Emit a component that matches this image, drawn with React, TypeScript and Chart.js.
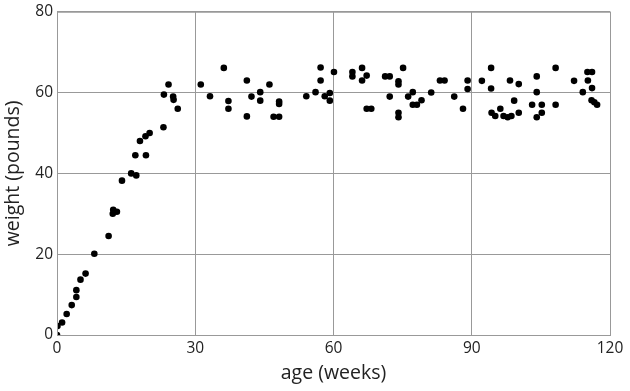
import React, { useEffect, useRef } from "react";
import { Chart, registerables } from "chart.js";

Chart.register(...registerables);

const ages: number[] = [
  0, 0.1, 1.1, 2.1, 3.2, 4.2, 4.2, 5.1, 6.2, 8.1, 11.2, 12.1, 12.2, 13,
  14.1, 16.1, 17.2, 17, 19.3, 18, 19.2, 20.1, 23.1, 23.2, 24.2, 25.2, 25.3, 26.2,
  31.2, 33.2, 36.2, 37.2, 37.2, 41.2, 41.2, 42.2, 44.1, 44.1, 46.1, 47, 48.2, 48.2, 48.2,
  54.1, 56.1, 57.2, 57.2, 58.1, 59.2, 59.2, 60.1,
  64.1, 64.1, 66.2, 67.2, 66.2, 67.2, 68.2, 71.2, 72.2, 72.2, 74.1, 74.1, 75.1, 74.1, 74.1,
  76.2, 77.2, 77.2, 78.1, 79.1, 81.2, 83.1, 84.1, 86.2, 88.1, 89.1, 89.1,
  92.2, 94.2, 94.2, 94.3, 95.1, 96.2, 96.9, 97.8, 98.6, 98.3, 99.2, 100.2, 100.2,
  103.1, 104.1, 104.1, 105.2, 105.2, 104.1, 108.2, 108.2,
  112.2, 114.1, 115.1, 116.1, 115.2, 116.1, 116, 116.6, 117.2,
];
const weights: number[] = [
  0, 2.2, 3.1, 5.2, 7.4, 9.4, 11.1, 13.7, 15.2, 20.1, 24.5, 30, 31, 30.5,
  38.2, 40, 39.5, 44.5, 44.5, 48, 49.2, 50, 51.4, 59.5, 62, 59, 58.2, 56,
  62, 59.1, 66.1, 57.9, 56, 63, 54.1, 59, 60.1, 58, 62, 54, 54, 57.8, 57.2,
  59.1, 60.1, 66.2, 63, 59.1, 59.9, 58, 65.1,
  65.1, 64, 66.1, 64.2, 63, 56, 56, 64, 64, 59, 62.8, 62, 66.1, 55, 53.9,
  59, 60.1, 57, 57, 58.1, 60, 63, 63, 59, 56, 63, 60.9,
  62.9, 66.1, 61, 55, 54.2, 56, 54.2, 53.9, 54.2, 63, 58, 62.1, 55,
  57, 64, 60.1, 57, 55, 53.9, 66.1, 57,
  62.9, 60.1, 65.1, 65.1, 63, 61.1, 58.1, 57.6, 57,
];

const xTicks: number[] = [0, 30, 60, 90, 120];
const yTicks: number[] = [0, 20, 40, 60, 80];

export default function App() {
  const ref = useRef<HTMLCanvasElement>(null);
  useEffect(() => {
    document.body.style.margin = "0";
    const font = "'Open Sans', sans-serif";
    const chart = new Chart(ref.current!, {
      type: "scatter",
      data: {
        datasets: [
          {
            data: ages.map((a, i) => ({ x: a, y: weights[i] })),
            backgroundColor: "#000",
            borderWidth: 0,
            pointRadius: 3.3,
          },
        ],
      },
      options: {
        animation: false,
        responsive: false,
        layout: { padding: { top: 10, right: 20, left: 0, bottom: 0 } },
        plugins: { legend: { display: false }, tooltip: { enabled: false } },
        scales: {
          x: {
            type: "linear",
            min: 0,
            max: 120,
            afterBuildTicks: (s: any) => {
              s.ticks = xTicks.map((v) => ({ value: v }));
            },
            afterFit: (s: any) => {
              s.height = 56;
            },
            grid: { color: "#999", drawTicks: false },
            border: { color: "#999" },
            ticks: { color: "#222", font: { family: font, size: 15.5, lineHeight: 1 }, padding: 6 },
            title: {
              display: true,
              text: "age (weeks)",
              color: "#222",
              font: { family: font, size: 19.5 },
              padding: { top: 0, bottom: 6 },
            },
          },
          y: {
            type: "linear",
            min: 0,
            max: 80,
            afterBuildTicks: (s: any) => {
              s.ticks = yTicks.map((v) => ({ value: v }));
            },
            afterFit: (s: any) => {
              s.width = 57;
            },
            grid: { color: "#999", drawTicks: false },
            border: { color: "#999" },
            ticks: { color: "#222", font: { family: font, size: 15.5, lineHeight: 1 }, padding: 4 },
            title: {
              display: true,
              text: "weight (pounds)",
              color: "#222",
              font: { family: font, size: 19.5 },
              padding: { top: 2, bottom: 0 },
            },
          },
        },
      },
      plugins: [
        {
          id: "frame",
          afterDraw: (c: any) => {
            const { ctx, chartArea } = c;
            ctx.save();
            ctx.strokeStyle = "#999";
            ctx.lineWidth = 1;
            ctx.strokeRect(chartArea.left + 0.5, chartArea.top + 0.5, chartArea.right - chartArea.left, chartArea.bottom - chartArea.top);
            ctx.restore();
          },
        },
      ],
    });
    return () => chart.destroy();
  }, []);
  return (
    <div style={{ position: "fixed", left: 0, top: 0, width: 630, height: 391 }}>
      <canvas ref={ref} width={630} height={391} style={{ width: 630, height: 391 }} />
    </div>
  );
}
